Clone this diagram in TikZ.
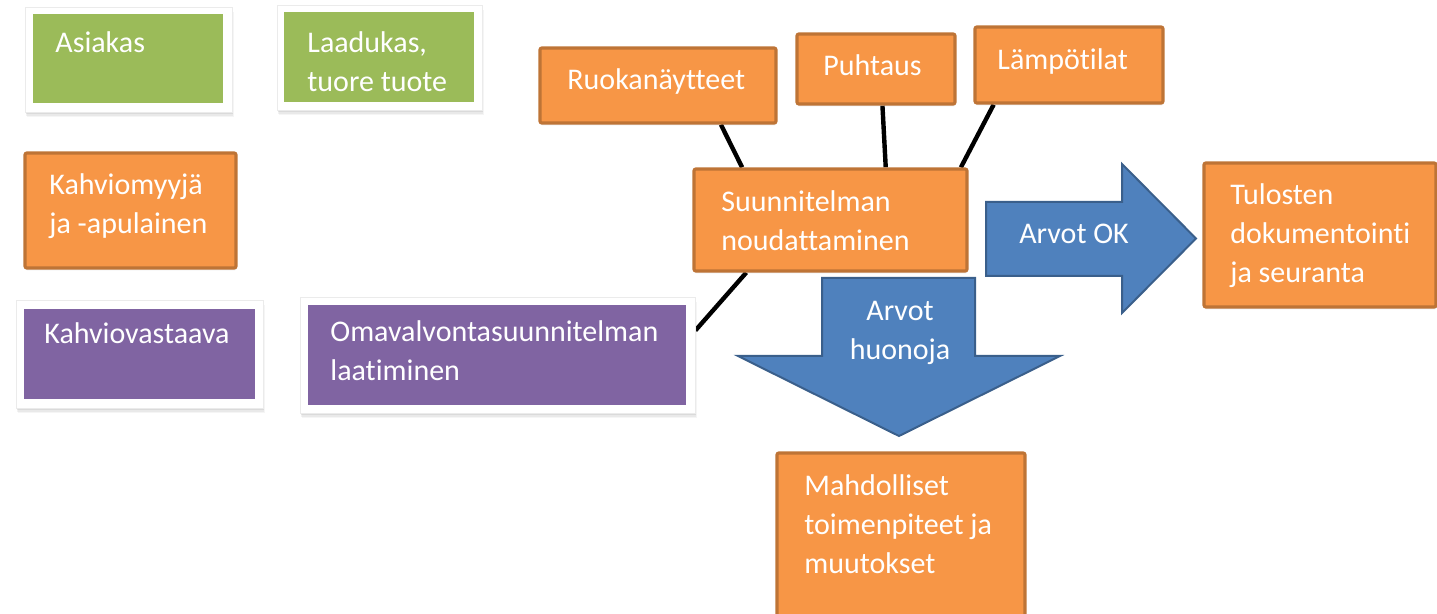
\documentclass[tikz,border=0pt]{standalone}
\usepackage{fontspec}
\setmainfont[Ligatures=NoCommon]{Carlito}
\usetikzlibrary{fit,calc,shadows}
\definecolor{leaf}{HTML}{9BBB59}
\definecolor{tangerine}{HTML}{F79646}
\definecolor{tanborder}{HTML}{BE7436}
\definecolor{plum}{HTML}{8064A2}
\definecolor{steel}{HTML}{4F81BD}
\definecolor{steelborder}{HTML}{3A5F8B}
\pgfdeclarelayer{background}
\pgfsetlayers{background,main}
% multi-line text whose baseline is the first line's
\newcommand\leftlines[1]{\vtop{\halign{##\hfil\cr#1\crcr}}}
\newcommand\midlines[1]{\vtop{\halign{\hfil##\hfil\cr#1\crcr}}}
\begin{document}
\begin{tikzpicture}[x=0.5pt,y=-0.5pt,
  softshadow/.style={
    drop shadow={shadow xshift=0.9pt, shadow yshift=-2.4pt, opacity=0.08},
    drop shadow={shadow xshift=0.7pt, shadow yshift=-1.8pt, opacity=0.10},
    drop shadow={shadow xshift=0.5pt, shadow yshift=-1.2pt, opacity=0.14}},
  whiteframe/.style={fill=white, draw=black!8, line width=0.4pt, inner sep=0pt, softshadow},
  greenbox/.style={fill=leaf, inner sep=0pt},
  purplebox/.style={fill=plum, inner sep=0pt},
  orangebox/.style={fill=tangerine, draw=tanborder, line width=1.6pt, inner sep=0pt,
    rounded corners=1pt,
    drop shadow={shadow xshift=0.3pt, shadow yshift=-1.2pt, opacity=0.15}},
  boxtext/.style={text=white, inner sep=0pt, font=\fontsize{15pt}{19.5pt}\selectfont},
  link/.style={line width=2.2pt, black},
  bigarrow/.style={fill=steel, draw=steelborder, line width=1pt, line join=miter}
]
\useasboundingbox (0,0) rectangle (1437,614);

% green roles
\node[whiteframe, fit={(25,7) (232,112)}] (asiakasframe) {};
\node[greenbox, fit={(33,14) (223,103)}] (asiakas) {};
\node[boxtext, anchor=base west] (asiakastext) at (55,53) {Asiakas};

\node[whiteframe, fit={(277,5) (482,110)}] (tuoteframe) {};
\node[greenbox, fit={(284,12) (474,102)}] (tuote) {};
\node[boxtext, anchor=base west] (tuotetext) at (307,53) {\leftlines{Laadukas,\cr tuore tuote}};

% orange role
\node[orangebox, fit={(25,153) (236,268)}] (myyja) {};
\node[boxtext, anchor=base west] (myyjatext) at (49,195) {\leftlines{Kahviomyyjä\cr ja -apulainen}};

% purple roles
\node[whiteframe, fit={(16,300) (263,408)}] (vastaavaframe) {};
\node[purplebox, fit={(24,309) (255,399)}] (vastaava) {};
\node[boxtext, anchor=base west] (vastaavatext) at (44,344) {Kahviovastaava};

\node[whiteframe, fit={(300,297) (695,413)}] (omaframe) {};
\node[purplebox, fit={(308,305) (686,405)}] (oma) {};
\node[boxtext, anchor=base west] (omatext) at (330,342) {\leftlines{Omavalvontasuunnitelman\cr laatiminen}};

% checks
\node[orangebox, fit={(540,48) (776,123)}] (ruoka) {};
\node[boxtext, anchor=base west] (ruokatext) at (567,90) {Ruokanäytteet};

\node[orangebox, fit={(797,34) (955,104)}] (puhtaus) {};
\node[boxtext, anchor=base west] (puhtaustext) at (823,76) {Puhtaus};

\node[orangebox, fit={(975,27) (1163,103)}] (lampo) {};
\node[boxtext, anchor=base west] (lampotext) at (997,70) {Lämpötilat};

% following the plan
\node[orangebox, fit={(694,169) (967,271)}] (plan) {};
\node[boxtext, anchor=base west] (plantext) at (721,212) {\leftlines{Suunnitelman\cr noudattaminen}};

% outcomes
\node[orangebox, fit={(1204,163) (1436,307)}] (tulokset) {};
\node[boxtext, anchor=base west] (tuloksettext) at (1230,205) {\leftlines{Tulosten\cr dokumentointi\cr ja seuranta}};

\node[orangebox, fit={(777,453) (1025,630)}] (toimet) {};
\node[boxtext, anchor=base west] (toimettext) at (804,496) {\leftlines{Mahdolliset\cr toimenpiteet ja\cr muutokset}};

% block arrows
\draw[bigarrow] (986,202) -- (1122,202) -- (1122,164) -- (1196,238.5) -- (1122,313)
  -- (1122,276) -- (986,276) -- cycle;
\node[boxtext, anchor=base] (okarrow) at (1074,244) {Arvot OK};

\draw[bigarrow] (822,278) -- (975,278) -- (975,356) -- (1060,356) -- (899,436)
  -- (738,356) -- (822,356) -- cycle;
\node[boxtext, anchor=base] (badarrow) at (900,321) {\midlines{Arvot\cr huonoja}};

% connectors
\begin{pgfonlayer}{background}
\draw[link] ($(ruoka.south west)!.763!(ruoka.south east)$) -- ($(plan.north west)!.18!(plan.north east)$);
\draw[link] ($(puhtaus.south west)!.54!(puhtaus.south east)$) -- ($(plan.north west)!.70!(plan.north east)$);
\draw[link] ($(lampo.south west)!.106!(lampo.south east)$) -- ($(plan.north west)!.972!(plan.north east)$);
\draw[link] ($(plan.south west)!.195!(plan.south east)$) -- ($(omaframe.north east)!.29!(omaframe.south east)$);
\end{pgfonlayer}
\end{tikzpicture}
\end{document}
